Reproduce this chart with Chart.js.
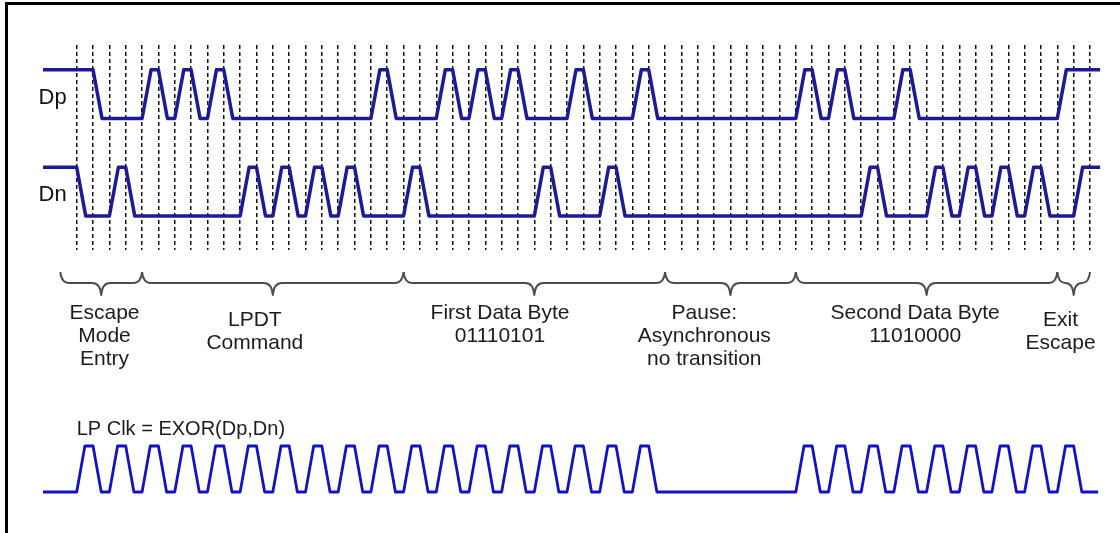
<!DOCTYPE html>
<html>
<head>
<meta charset="utf-8">
<title>LPDT escape sequence timing</title>
<script src="https://cdn.jsdelivr.net/npm/chart.js@4.4.1/dist/chart.umd.min.js"></script>
<style>
  html, body { margin: 0; padding: 0; background: #fff; }
  #wrap { position: relative; width: 1120px; height: 533px; overflow: hidden; }
  #frame { position: absolute; left: 5px; top: 2px; right: 0; bottom: 0; border-left: 3px solid #000; border-top: 3px solid #000; }
  #timing { position: absolute; left: 0; top: 0; }
</style>
</head>
<body>
<div id="wrap">
  <div id="frame"></div>
  <canvas id="timing" width="1120" height="533"></canvas>
</div>
<script>
// Time is counted in slots, one slot per dashed grid line
const slots = Array.from({ length: 63 }, (_, i) => i);

const laneNames = ['Dp', 'Dn'];

// Times at which each line toggles (both data lines start high, clock low)
const dpEdges = [1, 4, 5, 6, 7, 8, 9, 18, 19, 22, 23, 24, 25, 26, 27, 30, 31, 34, 35,
                 44, 45, 46, 47, 50, 51, 60];
const dnEdges = [0, 2, 3, 10, 11, 12, 13, 14, 15, 16, 17, 20, 21, 28, 29, 32, 33,
                 48, 49, 52, 53, 54, 55, 56, 57, 58, 59, 61];
const clkEdges = [0, 1, 2, 3, 4, 5, 6, 7, 8, 9, 10, 11, 12, 13, 14, 15, 16, 17,
                  18, 19, 20, 21, 22, 23, 24, 25, 26, 27, 28, 29, 30, 31, 32, 33, 34, 35,
                  44, 45, 46, 47, 48, 49, 50, 51, 52, 53, 54, 55, 56, 57, 58, 59, 60, 61];
const dpStart = 1;
const dnStart = 1;
const clkStart = 0;

// Protocol phases (slot boundaries) and their captions
const phaseBounds = [-1, 4, 20, 36, 44, 60, 62];
const phaseLabels = [
  ['Escape', 'Mode', 'Entry'],
  ['LPDT', 'Command'],
  ['First Data Byte', '01110101'],
  ['Pause:', 'Asynchronous', 'no transition'],
  ['Second Data Byte', '11010000'],
  ['Exit', 'Escape']
];
const clkCaption = 'LP Clk = EXOR(Dp,Dn)';

// ---- layout / style ----
const FONT = '"Liberation Sans", Arial, Helvetica, sans-serif';
const T_START = -2.06;
const T_END = 62.62;
const RISE = 0.55;
const CLK_RISE = 0.5;
const DP_BASE = 2, DN_BASE = 0, LANE_AMP = 1;
const CLK_BASE = -5.67, CLK_AMP = 0.945;
const laneMarks = [2.43, 0.43];
const labelX = [1.7, 10.9, 25.9, 38.4, 51.3, 60.2];
const labelTop = [313.5, 320.5, 313.5, 313.5, 313.5, 320.5];
const LINE_H = 23;
const BRACE_TOP = 272, BRACE_MID = 283, BRACE_TIP = 295;

function wave(edges, level, base, amp, rise, t0, t1) {
  const pts = [{ x: t0, y: base + amp * level }];
  edges.forEach(t => {
    pts.push({ x: t, y: base + amp * level });
    level = 1 - level;
    pts.push({ x: t + rise, y: base + amp * level });
  });
  pts.push({ x: t1, y: base + amp * level });
  return pts;
}

function drawBrace(ctx, x1, x2) {
  const xm = (x1 + x2) / 2;
  const r = Math.min(9, (x2 - x1) / 4);
  ctx.beginPath();
  ctx.moveTo(x1, BRACE_TOP);
  ctx.quadraticCurveTo(x1 + 1, BRACE_MID, x1 + r, BRACE_MID);
  ctx.lineTo(xm - r, BRACE_MID);
  ctx.quadraticCurveTo(xm - 1, BRACE_MID, xm, BRACE_TIP);
  ctx.quadraticCurveTo(xm + 1, BRACE_MID, xm + r, BRACE_MID);
  ctx.lineTo(x2 - r, BRACE_MID);
  ctx.quadraticCurveTo(x2 - 1, BRACE_MID, x2, BRACE_TOP);
  ctx.stroke();
}

const phasePlugin = {
  id: 'phases',
  afterDraw(chart) {
    const ctx = chart.ctx;
    const x = chart.scales.x;
    ctx.save();
    ctx.strokeStyle = '#4d4d4d';
    ctx.lineWidth = 2;
    ctx.lineJoin = 'round';
    for (let i = 0; i < phaseBounds.length - 1; i++) {
      drawBrace(ctx, x.getPixelForValue(phaseBounds[i]), x.getPixelForValue(phaseBounds[i + 1]));
    }
    ctx.fillStyle = '#1c1c1c';
    ctx.font = '21px ' + FONT;
    ctx.textAlign = 'center';
    ctx.textBaseline = 'middle';
    phaseLabels.forEach((lines, i) => {
      const cx = x.getPixelForValue(labelX[i]);
      lines.forEach((s, j) => ctx.fillText(s, cx, labelTop[i] + j * LINE_H));
    });
    ctx.textAlign = 'left';
    ctx.font = '20px ' + FONT;
    ctx.fillText(clkCaption, x.getPixelForValue(0), 429);
    ctx.restore();
  }
};

new Chart(document.getElementById('timing'), {
  type: 'line',
  data: {
    datasets: [
      {
        label: 'Dp',
        data: wave(dpEdges, dpStart, DP_BASE, LANE_AMP, RISE, T_START, T_END),
        borderColor: '#1b1b96',
        borderWidth: 3.5,
        clip: false
      },
      {
        label: 'Dn',
        data: wave(dnEdges, dnStart, DN_BASE, LANE_AMP, RISE, T_START, T_END),
        borderColor: '#1b1b96',
        borderWidth: 3.5,
        clip: false
      },
      {
        label: 'LP Clk',
        data: wave(clkEdges, clkStart, CLK_BASE, CLK_AMP, CLK_RISE, T_START, 62.5),
        borderColor: '#1212c4',
        borderWidth: 2.8,
        clip: false
      }
    ]
  },
  options: {
    responsive: false,
    animation: false,
    layout: { padding: { left: 0, right: 30, top: 45, bottom: 283 } },
    elements: {
      point: { radius: 0 },
      line: { tension: 0, borderJoinStyle: 'round', fill: false }
    },
    plugins: {
      legend: { display: false },
      tooltip: { enabled: false }
    },
    scales: {
      x: {
        type: 'linear',
        min: 0,
        max: 62,
        afterBuildTicks: scale => { scale.ticks = slots.map(v => ({ value: v })); },
        ticks: { display: false },
        grid: { color: '#111', lineWidth: 1.5, drawTicks: false },
        border: { display: false, dash: [4, 3] }
      },
      y: {
        type: 'linear',
        min: -0.7,
        max: 3.51,
        afterBuildTicks: scale => { scale.ticks = laneMarks.map(v => ({ value: v })); },
        afterFit: scale => { scale.width = 76.7; },
        ticks: {
          callback: (value, index) => laneNames[index],
          padding: 10,
          color: '#111',
          font: { size: 22, family: FONT }
        },
        grid: { display: false, drawTicks: false },
        border: { display: false }
      }
    }
  },
  plugins: [phasePlugin]
});
</script>
</body>
</html>
